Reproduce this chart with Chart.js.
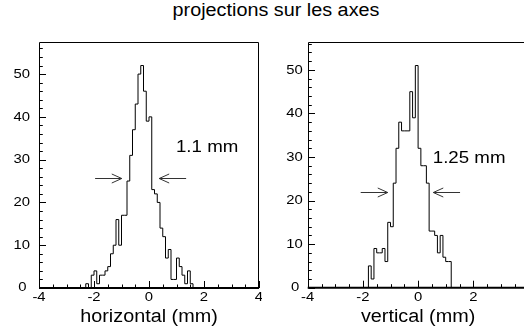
<!DOCTYPE html>
<html>
<head>
<meta charset="utf-8">
<script src="https://cdn.jsdelivr.net/npm/chart.js@4/dist/chart.umd.min.js"></script>
<style>
  html, body { margin: 0; padding: 0; background: #fff; width: 524px; height: 334px; overflow: hidden; }
  #title {
    position: absolute; left: 276px; top: 1.3px;
    font: 18px/18px "Liberation Sans", Arial, Helvetica, sans-serif; color: #000;
    white-space: nowrap; transform: translateX(-50%) scaleX(1.1); transform-origin: center;
  }
  canvas { position: absolute; top: 0; }
</style>
</head>
<body>
<div id="title">projections sur les axes</div>
<canvas id="hx" width="262" height="334" style="left:0"></canvas>
<canvas id="hy" width="272" height="334" style="left:262px"></canvas>
<script>
// Beam profile projections: 0.1 mm bins, counts per bin
const BIN_WIDTH = 0.1;
const horizontalStart = -2.3;
const horizontalCounts = [1, 0, 3, 4, 1, 3, 3, 4, 5, 8, 10, 16, 10, 17, 17, 25, 31, 37, 43, 50,
                          52, 46, 39, 40, 23, 22, 20, 14, 12, 7, 9, 2, 2, 7, 5, 3, 1, 4, 1];
const verticalStart = -1.8;
const verticalCounts = [5, 2, 9, 8, 8, 9, 6, 15, 14, 24, 32, 38, 36, 36, 36, 45, 39, 51, 32, 28,
                        28, 24, 13, 13, 12, 8, 12, 7, 6, 6];

// Axis ranges and tick labels
const xRange = [-4, 4];
const xTickLabels = [-4, -2, 0, 2, 4];
const yTickLabels = [0, 10, 20, 30, 40, 50];
const yMaxHorizontal = 57.5;
const yMaxVertical = 56.4;

// FWHM markers: arrow spans (mm), arrow height (counts), label
const horizontalFwhm = { label: '1.1 mm', level: 25.7, left: [-1.96, -0.99], right: [1.35, 0.37], textAt: [0.98, 33] };
const verticalFwhm = { label: '1.25 mm', level: 22, left: [-2.08, -1.10], right: [1.52, 0.55], textAt: [0.53, 29.8] };

const FONT = '"Liberation Sans", Arial, Helvetica, sans-serif';
const SX = 1.1; // horizontal stretch of the lettering

function histogramPoints(start, counts) {
  const pts = [{ x: start, y: 0 }];
  counts.forEach((c, i) => pts.push({ x: start + i * BIN_WIDTH, y: c }));
  pts.push({ x: start + counts.length * BIN_WIDTH, y: 0 });
  return pts;
}

function text(ctx, str, x, y, size, align, baseline) {
  ctx.save();
  ctx.translate(x, y);
  ctx.scale(SX, 1);
  ctx.font = size + 'px ' + FONT;
  ctx.fillStyle = '#000';
  ctx.textAlign = align;
  ctx.textBaseline = baseline;
  ctx.fillText(str, 0, 0);
  ctx.restore();
}

function arrow(ctx, x0, x1, y) {
  const dir = Math.sign(x1 - x0);
  ctx.beginPath();
  ctx.moveTo(x0, y); ctx.lineTo(x1, y);
  ctx.moveTo(x1 - dir * 10, y - 4.5); ctx.lineTo(x1, y); ctx.lineTo(x1 - dir * 10, y + 4.5);
  ctx.stroke();
}

// Frame, inward ticks, labels and FWHM annotation in ROOT style
const panelDecor = {
  id: 'panelDecor',
  afterDraw(chart, args, o) {
    const { ctx, chartArea: a, scales: { x, y } } = chart;
    ctx.save();
    ctx.strokeStyle = '#000';
    ctx.lineWidth = 1;
    const L = Math.round(a.left) + 0.5, R = Math.round(a.right) - 0.5, T = Math.round(a.top) + 0.5;
    const B = y.getPixelForValue(0);
    ctx.beginPath();
    ctx.moveTo(L, B); ctx.lineTo(L, T); ctx.lineTo(R, T); ctx.lineTo(R, B);
    ctx.stroke();
    ctx.lineWidth = 2;
    ctx.beginPath(); ctx.moveTo(a.left, B); ctx.lineTo(a.right, B); ctx.stroke();

    ctx.lineWidth = 1;
    ctx.beginPath();
    for (let v = xRange[0]; v <= xRange[1] + 1e-9; v += 0.5) {
      const px = Math.round(x.getPixelForValue(v)) + 0.5;
      const len = Math.abs(v % 2) < 1e-9 ? 7 : 3.5;
      ctx.moveTo(px, B); ctx.lineTo(px, B - len);
    }
    for (let v = 0; v <= y.max; v += 2) {
      const py = Math.round(y.getPixelForValue(v)) + 0.5;
      const len = v % 10 === 0 ? 6.5 : 3.3;
      ctx.moveTo(L, py); ctx.lineTo(L + len, py);
    }
    ctx.stroke();

    xTickLabels.forEach(v => text(ctx, String(v), x.getPixelForValue(v), 297, 13.5, 'center', 'middle'));
    // the origin label sits a little further out, clear of the x axis labels
    yTickLabels.forEach(v => text(ctx, String(v), a.left - o.yLabelGap - (v === 0 ? 3.5 : 0),
      y.getPixelForValue(v) - (v === 0 ? 0.5 : 0), 13.5, 'right', 'middle'));
    text(ctx, o.xTitle, x.getPixelForValue(0), 322, 18, 'center', 'alphabetic');

    const f = o.fwhm;
    ctx.strokeStyle = '#333';
    const ay = Math.round(y.getPixelForValue(f.level)) + 0.5;
    arrow(ctx, x.getPixelForValue(f.left[0]), x.getPixelForValue(f.left[1]), ay);
    arrow(ctx, x.getPixelForValue(f.right[0]), x.getPixelForValue(f.right[1]), ay);
    text(ctx, f.label, x.getPixelForValue(f.textAt[0]), y.getPixelForValue(f.textAt[1]), 17, 'left', 'middle');
    ctx.restore();
  }
};

function makePanel(id, start, counts, yMax, padding, decor) {
  return new Chart(document.getElementById(id), {
    type: 'line',
    data: {
      datasets: [{
        data: histogramPoints(start, counts),
        stepped: true,
        borderColor: '#000',
        borderWidth: 1,
        pointRadius: 0,
        fill: false,
        clip: false
      }]
    },
    options: {
      responsive: false,
      animation: false,
      devicePixelRatio: 1,
      layout: { padding },
      scales: {
        x: { type: 'linear', min: xRange[0], max: xRange[1], display: false },
        y: { type: 'linear', min: 0, max: yMax, display: false }
      },
      plugins: { legend: { display: false }, tooltip: { enabled: false }, panelDecor: decor }
    },
    plugins: [panelDecor]
  });
}

makePanel('hx', horizontalStart, horizontalCounts, yMaxHorizontal,
  { left: 39, right: 3, top: 42, bottom: 46 },
  { xTitle: 'horizontal (mm)', yLabelGap: 9, fwhm: horizontalFwhm });

makePanel('hy', verticalStart, verticalCounts, yMaxVertical,
  { left: 45.7, right: 5.5, top: 42, bottom: 46.3 },
  { xTitle: 'vertical (mm)', yLabelGap: 5, fwhm: verticalFwhm });
</script>
</body>
</html>
